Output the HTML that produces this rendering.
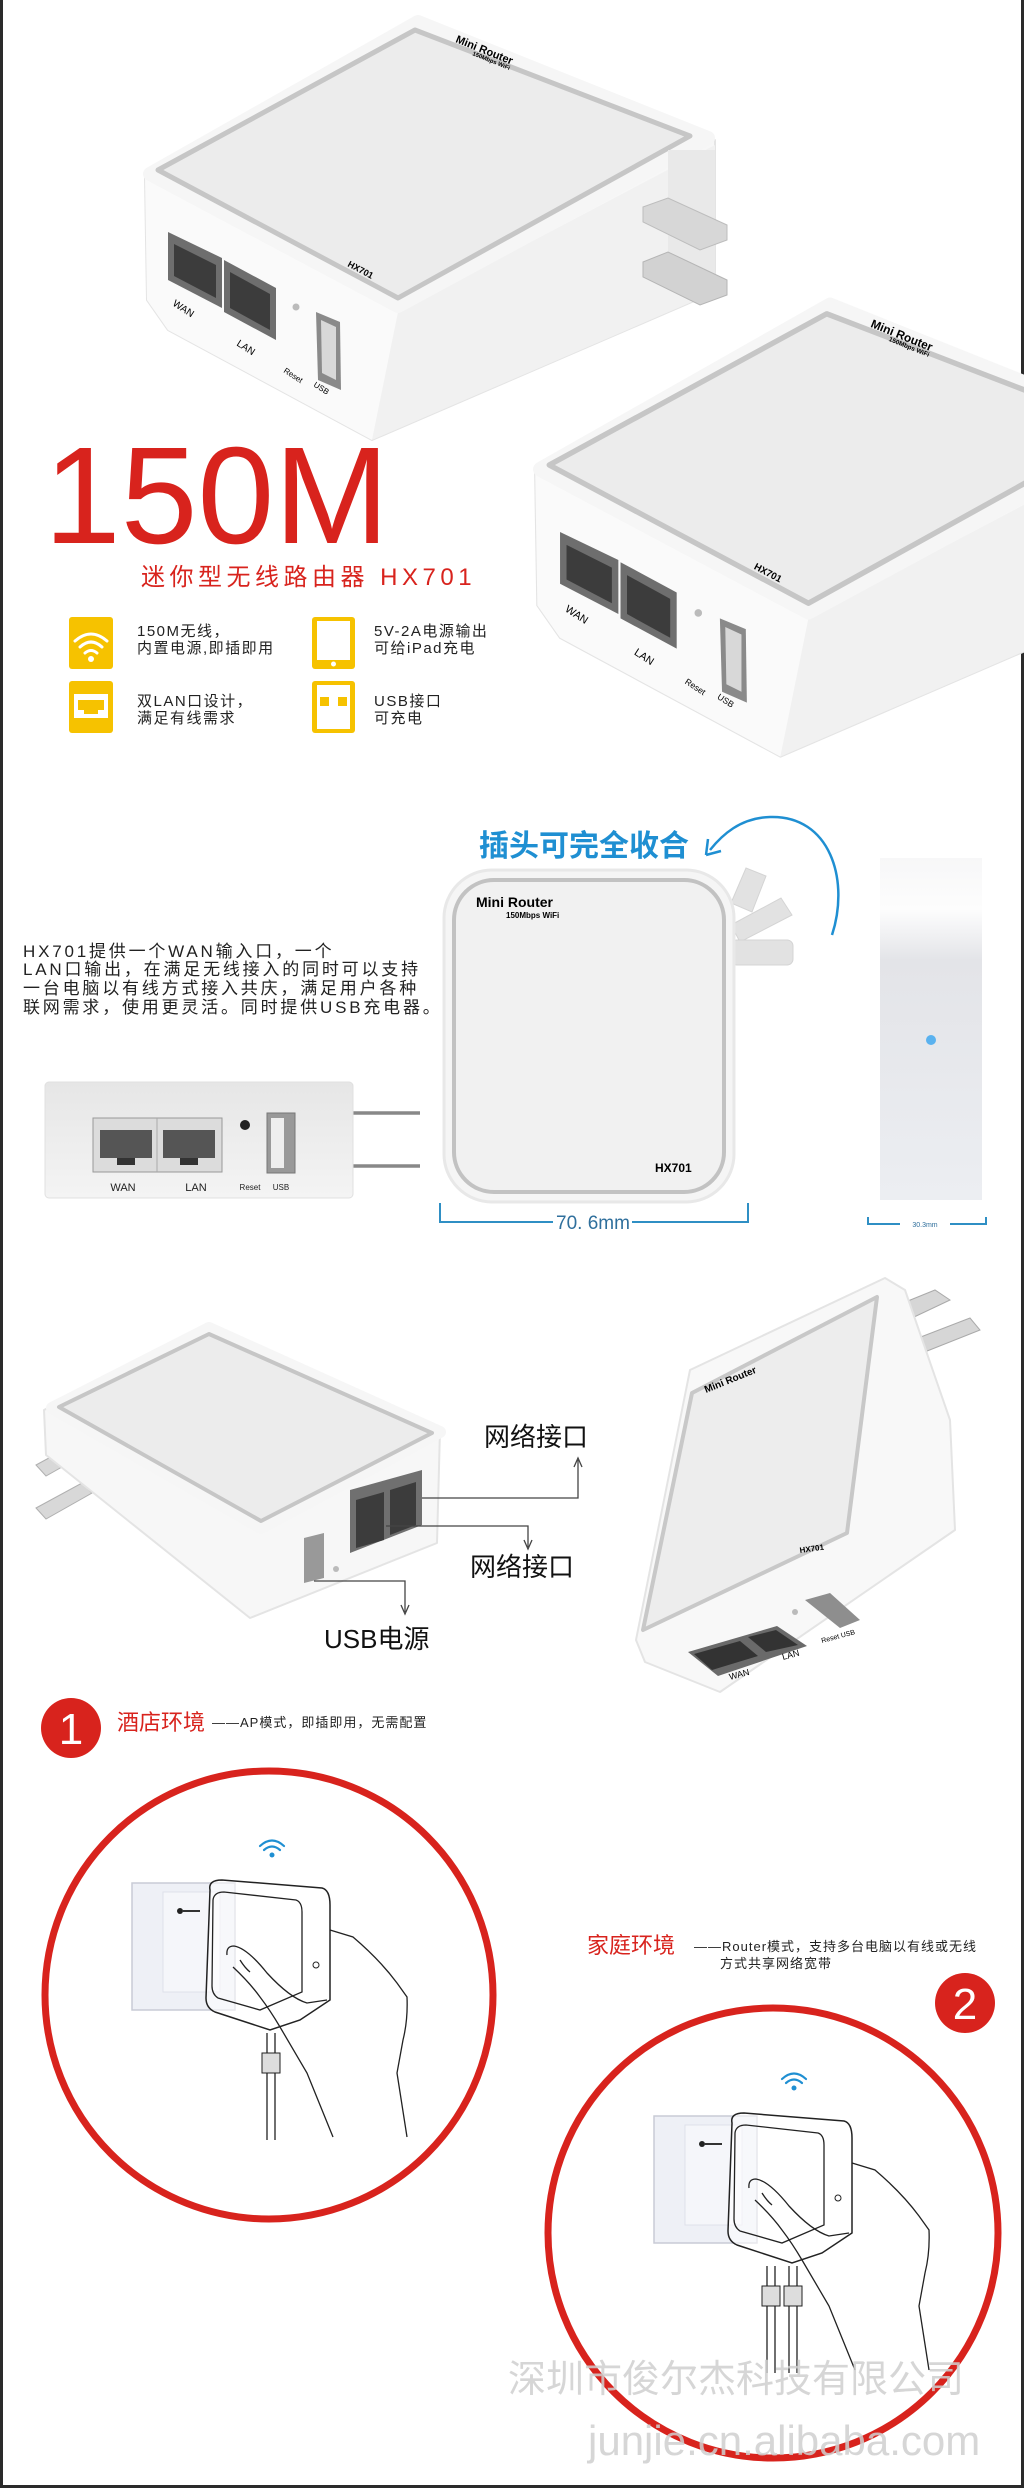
<!DOCTYPE html>
<html><head><meta charset="utf-8">
<style>
html,body{margin:0;padding:0;background:#fff}
svg{display:block}
.cn{font-family:"Liberation Sans","Noto Sans CJK SC",sans-serif}
</style></head><body>
<svg width="1024" height="2488" viewBox="0 0 1024 2488" xmlns="http://www.w3.org/2000/svg">
<defs>
<linearGradient id="side" x1="0" y1="0" x2="0" y2="1">
<stop offset="0" stop-color="#f7f7f8"/><stop offset="0.15" stop-color="#fdfdfd"/><stop offset="0.3" stop-color="#e3e4e8"/><stop offset="1" stop-color="#eceef2"/>
</linearGradient>
<linearGradient id="portv" x1="0" y1="0" x2="0" y2="1">
<stop offset="0" stop-color="#e6e6e6"/><stop offset="1" stop-color="#f4f4f4"/>
</linearGradient>
<g id="router1">
<polygon points="145,177 421,18 715,140 715,292 372,440 168,330 147,300" fill="#f7f7f7" stroke="#e4e4e4" stroke-width="2" stroke-linejoin="round"/>
<polygon points="145,177 398,312 398,318 372,440 168,330 147,300" fill="#fafafa"/>
<polygon points="398,312 715,145 715,292 372,440" fill="#f1f1f1"/>
<polygon points="150,174 418,22 708,138 398,306" fill="#f6f6f6" stroke="#f6f6f6" stroke-width="14" stroke-linejoin="round"/>
<polygon points="158,170 415,30 690,136 398,298" fill="#ececec" stroke="#c6c6c6" stroke-width="5" stroke-linejoin="round"/>
<polygon points="168,232 222,258 222,308 168,280" fill="#6e6e6e"/>
<polygon points="174,244 216,265 216,298 174,276" fill="#3c3c3c"/>
<polygon points="224,260 276,288 276,340 224,312" fill="#6e6e6e"/>
<polygon points="230,272 270,294 270,330 230,308" fill="#3c3c3c"/>
<circle cx="296" cy="307" r="3.5" fill="#bbb"/>
<polygon points="316,312 340,322 341,390 318,380" fill="#8a8a8a"/>
<polygon points="321,320 336,327 336,380 322,373" fill="#d8d8d8"/>
</g>
</defs>

<rect x="0" y="0" width="3" height="2488" fill="#2a2a2a"/>
<rect x="1021" y="0" width="3" height="2488" fill="#2a2a2a"/>
<rect x="0" y="2485" width="1024" height="3" fill="#2a2a2a"/>

<use href="#router1"/>
<rect x="668" y="150" width="47" height="140" fill="#e9e9e9"/>
<polygon points="643,207 668,198 727,225 727,240 700,250 643,222" fill="#d7d7d7" stroke="#bdbdbd"/>
<polygon points="643,262 668,252 727,280 727,295 700,305 643,277" fill="#d2d2d2" stroke="#b5b5b5"/>
<text transform="translate(455,42) rotate(22)" font-family="Liberation Sans" font-weight="bold" font-size="11">Mini Router</text>
<text transform="translate(472,55) rotate(22)" font-family="Liberation Sans" font-weight="bold" font-size="6">150Mbps WiFi</text>
<text transform="translate(347,266) rotate(28)" font-family="Liberation Sans" font-weight="bold" font-size="9">HX701</text>
<text transform="translate(172,305) rotate(33)" font-family="Liberation Sans" font-size="10">WAN</text>
<text transform="translate(236,345) rotate(33)" font-family="Liberation Sans" font-size="10">LAN</text>
<text transform="translate(283,372) rotate(33)" font-family="Liberation Sans" font-size="8">Reset</text>
<text transform="translate(313,386) rotate(33)" font-family="Liberation Sans" font-size="8">USB</text>

<g transform="translate(546,465) scale(1.08) translate(-155,-170)">
<use href="#router1"/>
<text transform="translate(455,42) rotate(22)" font-family="Liberation Sans" font-weight="bold" font-size="11">Mini Router</text>
<text transform="translate(472,55) rotate(22)" font-family="Liberation Sans" font-weight="bold" font-size="6">150Mbps WiFi</text>
<text transform="translate(347,266) rotate(28)" font-family="Liberation Sans" font-weight="bold" font-size="9">HX701</text>
<text transform="translate(172,305) rotate(33)" font-family="Liberation Sans" font-size="10">WAN</text>
<text transform="translate(236,345) rotate(33)" font-family="Liberation Sans" font-size="10">LAN</text>
<text transform="translate(283,372) rotate(33)" font-family="Liberation Sans" font-size="8">Reset</text>
<text transform="translate(313,386) rotate(33)" font-family="Liberation Sans" font-size="8">USB</text>
</g>

<text x="44" y="543" font-family="Liberation Sans" font-size="138" fill="#d8231d">150M</text>
<text x="141" y="585" class="cn" font-size="24" fill="#d8231d" letter-spacing="4.5">迷你型无线路由器 HX701</text>

<rect x="69" y="617" width="44" height="52" rx="3" fill="#f6c200"/>
<g fill="none" stroke="#fff" stroke-width="3" stroke-linecap="round">
<path d="M75,641 Q91,627 107,641"/><path d="M80,647 Q91,637 102,647"/><path d="M85,653 Q91,648 97,653"/>
</g>
<circle cx="91" cy="659" r="3" fill="#fff"/>
<rect x="69" y="681" width="44" height="52" rx="3" fill="#f6c200"/>
<rect x="74" y="694" width="34" height="24" fill="#fff"/>
<path d="M78,700 H104 V710 H98 V714 H84 V710 H78 Z" fill="#f6c200"/>
<rect x="312" y="617" width="43" height="52" rx="3" fill="#f6c200"/>
<rect x="317" y="621" width="33" height="39" fill="#fff"/>
<circle cx="333.5" cy="664" r="2.5" fill="#fff"/>
<rect x="312" y="681" width="43" height="52" rx="3" fill="#f6c200"/>
<rect x="317" y="685" width="33" height="44" fill="#fff"/>
<rect x="320" y="697" width="9" height="9" fill="#f6c200"/>
<rect x="338" y="697" width="9" height="9" fill="#f6c200"/>
<g class="cn" font-size="15" fill="#222" letter-spacing="1.5">
<text x="137" y="636">150M无线，</text><text x="137" y="653">内置电源,即插即用</text>
<text x="374" y="636">5V-2A电源输出</text><text x="374" y="653">可给iPad充电</text>
<text x="137" y="706">双LAN口设计，</text><text x="137" y="723">满足有线需求</text>
<text x="374" y="706">USB接口</text><text x="374" y="723">可充电</text>
</g>

<text x="479" y="856" class="cn" font-size="30" font-weight="bold" fill="#1f8fd2">插头可完全收合</text>
<path d="M832,935 C850,880 830,815 770,817 C740,818 722,835 710,850" fill="none" stroke="#1f8fd2" stroke-width="2.5"/>
<path d="M706,855 L708,839 M706,855 L721,851" stroke="#1f8fd2" stroke-width="2.5" fill="none"/>

<g class="cn" font-size="17" fill="#222" letter-spacing="2.8">
<text x="23" y="957">HX701提供一个WAN输入口，一个</text>
<text x="23" y="975">LAN口输出，在满足无线接入的同时可以支持</text>
<text x="23" y="994">一台电脑以有线方式接入共庆，满足用户各种</text>
<text x="23" y="1013">联网需求，使用更灵活。同时提供USB充电器。</text>
</g>

<g fill="#e2e2e2" stroke="#d4d4d4">
<polygon points="731,903 746,868 766,876 752,912"/>
<polygon points="731,925 781,898 792,915 740,942"/>
<rect x="731" y="940" width="62" height="25" rx="6"/>
</g>
<rect x="444" y="870" width="290" height="332" rx="48" fill="#f5f5f5" stroke="#e8e8e8" stroke-width="3"/>
<rect x="454" y="880" width="270" height="312" rx="40" fill="#f1f1f1" stroke="#c2c2c2" stroke-width="4"/>
<text x="476" y="907" font-family="Liberation Sans" font-weight="bold" font-size="14">Mini Router</text>
<text x="506" y="918" font-family="Liberation Sans" font-weight="bold" font-size="8">150Mbps WiFi</text>
<text x="655" y="1172" font-family="Liberation Sans" font-weight="bold" font-size="12">HX701</text>
<path d="M440,1203 V1222 H553 M632,1222 H748 V1203" fill="none" stroke="#2f8fc4" stroke-width="2"/>
<text x="593" y="1229" text-anchor="middle" font-family="Liberation Sans" font-size="19" fill="#2f6f9c">70. 6mm</text>

<rect x="880" y="858" width="102" height="342" fill="url(#side)"/>
<circle cx="931" cy="1040" r="5" fill="#5ab2ef"/>
<path d="M868,1217 V1224 H900 M950,1224 H986 V1217" fill="none" stroke="#2f8fc4" stroke-width="2"/>
<text x="925" y="1227" text-anchor="middle" font-family="Liberation Sans" font-size="7" fill="#2f6f9c">30.3mm</text>

<line x1="352" y1="1113" x2="420" y2="1113" stroke="#888" stroke-width="3.5"/>
<line x1="352" y1="1166" x2="420" y2="1166" stroke="#888" stroke-width="3.5"/>
<rect x="45" y="1082" width="308" height="116" rx="4" fill="url(#portv)" stroke="#e0e0e0"/>
<rect x="93" y="1118" width="129" height="54" fill="#dcdcdc" stroke="#999"/>
<line x1="157" y1="1118" x2="157" y2="1172" stroke="#aaa"/>
<rect x="100" y="1130" width="52" height="28" fill="#555"/>
<rect x="117" y="1158" width="18" height="7" fill="#333"/>
<rect x="163" y="1130" width="52" height="28" fill="#555"/>
<rect x="180" y="1158" width="18" height="7" fill="#333"/>
<circle cx="245" cy="1125" r="5" fill="#222"/>
<rect x="267" y="1113" width="28" height="60" fill="#999" stroke="#777"/>
<rect x="271" y="1118" width="13" height="50" fill="#eee"/>
<g font-family="Liberation Sans" fill="#222" text-anchor="middle">
<text x="123" y="1191" font-size="11">WAN</text><text x="196" y="1191" font-size="11">LAN</text>
<text x="250" y="1190" font-size="8">Reset</text><text x="281" y="1190" font-size="8">USB</text>
</g>

<!-- section 4 left router -->
<g fill="#d8d8d8" stroke="#b0b0b0">
<polygon points="36,1465 82,1440 92,1450 46,1476"/>
<polygon points="36,1508 82,1483 92,1493 46,1519"/>
</g>
<polygon points="44,1410 209,1325 440,1430 437,1543 250,1618 46,1455" fill="#f7f7f7" stroke="#e4e4e4" stroke-width="2" stroke-linejoin="round"/>
<polygon points="52,1408 209,1328 440,1432 261,1528" fill="#f6f6f6" stroke="#f6f6f6" stroke-width="12" stroke-linejoin="round"/>
<polygon points="59,1407 209,1334 432,1433 261,1521" fill="#ececec" stroke="#c6c6c6" stroke-width="4" stroke-linejoin="round"/>
<polygon points="350,1490 422,1470 422,1525 350,1553" fill="#707070"/>
<polygon points="356,1500 384,1492 384,1540 356,1548" fill="#3c3c3c"/>
<polygon points="390,1490 416,1482 416,1525 390,1535" fill="#3c3c3c"/>
<polygon points="304,1538 324,1533 324,1578 304,1583" fill="#999"/>
<circle cx="336" cy="1569" r="3" fill="#bbb"/>
<g stroke="#444" stroke-width="1.3" fill="none">
<path d="M422,1498 H578 V1460"/><path d="M574,1467 L578,1458 L582,1467"/>
<path d="M386,1526 H528 V1547"/><path d="M524,1540 L528,1549 L532,1540"/>
<path d="M314,1581 H405 V1612"/><path d="M401,1605 L405,1614 L409,1605"/>
</g>
<g class="cn" font-size="26" fill="#111">
<text x="484" y="1446">网络接口</text>
<text x="470" y="1576">网络接口</text>
<text x="324" y="1648">USB电源</text>
</g>

<!-- section 4 right router -->
<g fill="#d6d6d6" stroke="#aaa">
<polygon points="898,1305 935,1290 950,1300 912,1318"/>
<polygon points="900,1345 970,1318 980,1330 912,1357"/>
</g>
<polygon points="636,1640 690,1370 885,1278 905,1290 950,1420 955,1530 720,1692 645,1662" fill="#f8f8f8" stroke="#e4e4e4" stroke-width="2" stroke-linejoin="round"/>
<polygon points="643,1630 692,1393 877,1297 847,1533" fill="#ededed" stroke="#c8c8c8" stroke-width="4" stroke-linejoin="round"/>
<polygon points="688,1652 777,1626 807,1646 718,1676" fill="#6a6a6a"/>
<polygon points="694,1654 740,1641 758,1656 712,1670" fill="#333"/>
<polygon points="748,1637 776,1630 798,1645 766,1652" fill="#333"/>
<polygon points="805,1600 830,1593 860,1620 840,1628" fill="#8e8e8e"/>
<circle cx="795" cy="1612" r="3" fill="#bbb"/>
<text transform="translate(706,1393) rotate(-22)" font-family="Liberation Sans" font-weight="bold" font-size="10">Mini Router</text>
<text transform="translate(800,1553) rotate(-8)" font-family="Liberation Sans" font-weight="bold" font-size="8">HX701</text>
<text transform="translate(730,1680) rotate(-15)" font-family="Liberation Sans" font-size="9">WAN</text>
<text transform="translate(783,1660) rotate(-15)" font-family="Liberation Sans" font-size="9">LAN</text>
<text transform="translate(822,1643) rotate(-15)" font-family="Liberation Sans" font-size="7">Reset USB</text>

<circle cx="71" cy="1728" r="30" fill="#d8231d"/>
<text x="71" y="1744" text-anchor="middle" font-family="Liberation Sans" font-size="44" fill="#fff">1</text>
<text x="117" y="1730" class="cn" font-size="22" fill="#d8231d">酒店环境</text>
<text x="212" y="1727" class="cn" font-size="13" fill="#222" letter-spacing="1">——AP模式，即插即用，无需配置</text>

<circle cx="269" cy="1995" r="224" fill="none" stroke="#d8231d" stroke-width="7"/>

<g id="scene">
<rect x="132" y="1883" width="103" height="127" fill="#eef0f6" stroke="#c9cbd6" stroke-width="1.5"/>
<rect x="163" y="1892" width="57" height="100" fill="#f5f6fa" stroke="#dfe1ea"/>
<circle cx="180" cy="1911" r="3" fill="#222"/>
<path d="M183,1911 H200" stroke="#333" stroke-width="2"/>
<path d="M210,1890 Q208,1880 222,1880 L322,1888 Q330,1890 330,1905 L330,2000 L300,2020 L270,2030 L215,2012 Q206,2008 206,1998 Z" fill="#fff" fill-opacity="0.55" stroke="#222" stroke-width="1.5"/>
<path d="M213,1900 Q214,1892 224,1892 L296,1900 Q302,1902 302,1912 L302,1992 L260,2010 L218,1998 Q212,1994 212,1986 Z" fill="none" stroke="#222" stroke-width="1.3"/>
<circle cx="316" cy="1965" r="3" fill="none" stroke="#222"/>
<g fill="none" stroke="#222" stroke-width="1.3">
<path d="M227,1955 Q226,1946 234,1946 Q247,1948 267,1973 Q290,1998 307,2003 L327,2000"/>
<path d="M233,1967 Q250,1983 260,1997 Q270,2010 280,2027 L307,2073 L333,2137"/>
<path d="M330,1930 L353,1937 Q380,1960 397,1983 L407,1997 Q408,2020 403,2040 L397,2073 L407,2137"/>
<path d="M240,1960 Q245,1968 250,1972"/>
<path d="M267,2033 V2140 M275,2033 V2140"/>
</g>
<rect x="262" y="2053" width="18" height="20" fill="#ddd" stroke="#222"/>
<g fill="none" stroke="#1f8fd2" stroke-width="2.2" stroke-linecap="round">
<path d="M260,1846 Q272,1835 284,1846"/><path d="M264,1850 Q272,1843 280,1850"/>
</g>
<circle cx="272" cy="1855" r="2.5" fill="#1f8fd2"/>
</g>

<text x="587" y="1953" class="cn" font-size="22" fill="#d8231d">家庭环境</text>
<text x="694" y="1951" class="cn" font-size="13" fill="#222" letter-spacing="1">——Router模式，支持多台电脑以有线或无线</text>
<text x="720" y="1968" class="cn" font-size="13" fill="#222" letter-spacing="1">方式共享网络宽带</text>
<circle cx="965" cy="2003" r="30" fill="#d8231d"/>
<text x="965" y="2019" text-anchor="middle" font-family="Liberation Sans" font-size="44" fill="#fff">2</text>

<circle cx="773" cy="2233" r="225" fill="none" stroke="#d8231d" stroke-width="7"/>
<g transform="translate(522,233)">
<use href="#scene"/>
<path d="M245,2033 V2140 M253,2033 V2140" stroke="#222" stroke-width="1.3" fill="none"/>
<rect x="240" y="2053" width="18" height="20" fill="#ddd" stroke="#222"/>
</g>

<text x="508" y="2392" class="cn" font-size="38" fill="#cfcfcf" fill-opacity="0.85">深圳市俊尔杰科技有限公司</text>
<text x="588" y="2455" font-family="Liberation Sans" font-size="42" fill="#cfcfcf" fill-opacity="0.85">junjie.cn.alibaba.com</text>
</svg>
</body></html>
